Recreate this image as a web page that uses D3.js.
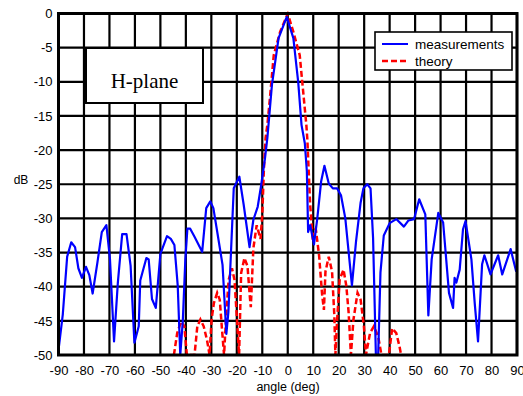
<!DOCTYPE html>
<html><head><meta charset="utf-8">
<script src="https://cdn.jsdelivr.net/npm/d3@7"></script>
<style>body{margin:0;background:#fff}svg{display:block}</style>
</head><body>
<script>
const xTicks = [-90,-80,-70,-60,-50,-40,-30,-20,-10,0,10,20,30,40,50,60,70,80,90];
const yTicks = [0,-5,-10,-15,-20,-25,-30,-35,-40,-45,-50];

const measAngle = [-90,-88.3,-86.6,-85,-83.5,-82.2,-80.8,-79.2,-77.9,-76.6,-74.7,-73,-71.2,-69.8,-68.2,-66.7,-65,-63.3,-61.7,-60.2,-58.5,-57.9,-55.5,-54.6,-53.3,-51.8,-50,-47.4,-45.9,-44.5,-43.2,-42.2,-41.2,-40.2,-39.4,-38.3,-36.6,-33.6,-32,-30.4,-29.2,-27.5,-25.6,-24.1,-23.3,-21.2,-19,-17.3,-15,-13.5,-11.8,-10.5,-9,-8,-6.2,-3.6,-0.4,2.2,4.1,5.4,6.7,7.5,8,8.8,10.3,11.6,13.1,14.4,16.1,17.7,19.4,20.9,22.6,25.2,26.8,28.6,29.7,31.2,32.5,33.5,34.6,35.5,36.4,37.7,40,42.6,45.6,47.4,49.6,51.6,54,55.2,56.5,59.1,61,63.3,64.9,65.5,66.2,67.5,68.8,69.8,72.1,73.4,74.7,76.3,77.2,79.6,82.6,84.2,87.5,89.7];
const measDb = [-49.3,-44,-35.6,-33.5,-34.2,-37.3,-38.7,-37.1,-38.3,-41,-36.4,-32,-31,-35.9,-48,-39.4,-32.3,-32.3,-36.9,-48.2,-45.8,-39.1,-35.8,-36,-41.8,-43.1,-35.2,-32.6,-33,-33.9,-39.8,-50,-45,-36,-31.5,-31.5,-32.7,-34.9,-28.5,-27.5,-28.5,-32.4,-36.8,-46.9,-43.7,-25.6,-23.9,-28,-34.2,-30.2,-28.3,-25.3,-21.4,-18.2,-10.4,-3.6,-0.5,-3.6,-10,-16.3,-19,-23.1,-32,-31,-33.8,-30,-24.6,-22.3,-24.9,-25.6,-25.6,-26.6,-30,-39.8,-33.4,-27.7,-25.6,-25,-25.6,-32.9,-50,-50,-37.9,-32.5,-30.7,-30.1,-31.2,-30.3,-30.1,-27.2,-29.4,-44.2,-36,-29.2,-30.6,-40.9,-43.1,-38.7,-39.4,-37.5,-31.6,-30.4,-36,-42.4,-48,-36.7,-35.4,-38.2,-35.4,-38.2,-34.5,-37.8];

const theoryAngle = [-44.7,-43.4,-41.9,-40.6,-39.6,-36.6,-35.5,-34.3,-33,-31.7,-30.7,-29.9,-29,-27.7,-26.7,-25.7,-25,-24.2,-23.2,-21.9,-20.9,-20,-19.1,-18.3,-17,-15.8,-14.9,-14.5,-13.5,-12.2,-10.7,-10,-9.4,-8.7,-8,-7,-5.5,-3,0,2.2,4.7,6.3,7.3,7.7,8.8,9.7,11,12.3,13.5,14.2,14.8,16.1,17.4,18.3,18.7,19.4,20.4,21.9,23,23.9,24.8,25.8,27.4,28.6,29.9,30.7,32.3,33.8,35.5,36.8,39.7,41,42.6,43.9,44.5];
const theoryDb = [-50,-46.8,-45.1,-45.8,-50,-50,-45.8,-44.8,-45.8,-47.8,-50,-44.8,-42.4,-40.9,-41.9,-46.8,-50,-44.4,-39,-37.3,-39,-44.4,-50,-38,-35.8,-37,-41.4,-43,-34.4,-31,-33,-29.5,-23.1,-18.2,-16.3,-12.4,-6.1,-2.7,0,-2.7,-6.1,-12.4,-16.3,-18.5,-28,-32.5,-31.5,-35.4,-41.2,-43.4,-37.8,-35.6,-37.8,-44.3,-50,-44.8,-38.9,-37.5,-39.9,-43.8,-50,-44.8,-40.9,-41.9,-45.8,-50,-46.8,-45.8,-47.3,-50,-50,-46.1,-46.8,-48.8,-50];

const seriesNames = ["measurements","theory"];

const W = 523, H = 396;
const L = 58.5, R = 517, T = 13.5, B = 355;
const svg = d3.select("body").append("svg").attr("width", W).attr("height", H);
const x = d3.scaleLinear().domain([-90, 90]).range([L, R]);
const y = d3.scaleLinear().domain([0, -50]).range([T, B]);

// grid
const grid = svg.append("g");
grid.selectAll("line.v").data(xTicks).join("line")
  .attr("x1", d => x(d)).attr("x2", d => x(d)).attr("y1", T).attr("y2", B)
  .attr("stroke", "#000").attr("stroke-width", 2.2);
grid.selectAll("line.h").data(yTicks).join("line")
  .attr("y1", d => y(d)).attr("y2", d => y(d)).attr("x1", L).attr("x2", R)
  .attr("stroke", "#000").attr("stroke-width", 2.2);

// axes labels
const xa = svg.append("g").attr("transform", `translate(0,${B})`)
  .call(d3.axisBottom(x).tickValues(xTicks).tickSize(0).tickPadding(14).tickFormat(d => d));
xa.select(".domain").remove();
xa.selectAll("text").attr("font-family", "Liberation Sans, Arial, sans-serif").attr("font-size", 13).attr("fill", "#000").attr("dy", "0.35em").attr("y", 15);
const ya = svg.append("g").attr("transform", `translate(${L},0)`)
  .call(d3.axisLeft(y).tickValues(yTicks).tickSize(0).tickPadding(6).tickFormat(d => d));
ya.select(".domain").remove();
ya.selectAll("text").attr("font-family", "Liberation Sans, Arial, sans-serif").attr("font-size", 13).attr("fill", "#000");

// curves
svg.append("clipPath").attr("id", "clip").append("rect").attr("x", L).attr("y", T - 2).attr("width", R - L).attr("height", B - T + 2);
const line = d3.line().x(d => x(d[0])).y(d => y(d[1]));
const measData = measAngle.map((a, i) => [a, measDb[i]]);
const theoData = theoryAngle.map((a, i) => [a, theoryDb[i]]);
const cg = svg.append("g").attr("clip-path", "url(#clip)");
cg.append("path").datum(theoData).attr("d", line).attr("fill", "none")
  .attr("stroke", "#ff0000").attr("stroke-width", 2.5).attr("stroke-dasharray", "6,3");
cg.append("path").datum(measData).attr("d", line).attr("fill", "none")
  .attr("stroke", "#0000ff").attr("stroke-width", 2.2).attr("stroke-linejoin", "round");

// frame
svg.append("rect").attr("x", L).attr("y", T).attr("width", R - L).attr("height", B - T)
  .attr("fill", "none").attr("stroke", "#000").attr("stroke-width", 3);

// axis titles
svg.append("text").attr("x", 21).attr("y", 184).attr("text-anchor", "middle")
  .attr("font-family", "Liberation Sans, Arial, sans-serif").attr("font-size", 12).text("dB");
svg.append("text").attr("x", 288).attr("y", 391).attr("text-anchor", "middle")
  .attr("font-family", "Liberation Sans, Arial, sans-serif").attr("font-size", 12.5).text("angle (deg)");

// H-plane box
svg.append("rect").attr("x", 86).attr("y", 48).attr("width", 117).attr("height", 55)
  .attr("fill", "#fff").attr("stroke", "#000").attr("stroke-width", 2);
svg.append("text").attr("x", 144.5).attr("y", 88).attr("text-anchor", "middle")
  .attr("font-family", "Liberation Serif, Times New Roman, serif").attr("font-size", 21).text("H-plane");

// legend
const lg = svg.append("g");
lg.append("rect").attr("x", 375).attr("y", 32).attr("width", 137).attr("height", 38)
  .attr("fill", "#fff").attr("stroke", "#000").attr("stroke-width", 1.6);
const lcol = ["#0000ff", "#ff0000"], ldash = [null, "6,3"], ly = [44, 61];
seriesNames.forEach((n, i) => {
  lg.append("line").attr("x1", 382).attr("x2", 408).attr("y1", ly[i]).attr("y2", ly[i])
    .attr("stroke", lcol[i]).attr("stroke-width", i ? 2.5 : 2).attr("stroke-dasharray", ldash[i]);
  lg.append("text").attr("x", 415).attr("y", ly[i] + 4.5)
    .attr("font-family", "Liberation Sans, Arial, sans-serif").attr("font-size", 13.5).text(n);
});
</script>
</body></html>
